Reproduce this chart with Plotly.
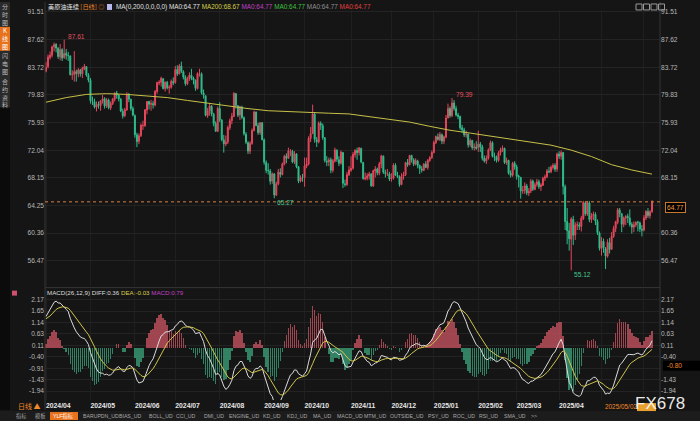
import numpy as np
import plotly.graph_objects as go

# ---------------- data ----------------
month_labels = ["2024/04", "2024/05", "2024/06", "2024/07", "2024/08", "2024/09", "2024/10",
                "2024/11", "2024/12", "2025/01", "2025/02", "2025/03", "2025/04", "2025/05", "2025/06"]
month_lengths = [22, 22, 20, 22, 22, 20, 23, 20, 21, 22, 19, 21, 21, 21, 5]

opens = [
    83.17, 83.80, 85.10, 85.40, 86.60, 86.95, 86.40, 85.20, 86.20, 85.10, 85.70, 85.40, 85.30, 82.70, 82.70, 83.10, 82.80, 83.30, 82.80, 83.50, 83.80, 82.60,
    81.90, 79.00, 78.90, 78.10, 78.50, 78.30, 79.00, 79.30, 78.30, 79.10, 78.00, 78.60, 79.20, 80.10, 79.80, 79.20, 77.50, 76.90, 77.70, 79.80, 79.20, 77.90,
    76.90, 74.20, 73.30, 74.10, 75.50, 75.50, 77.70, 78.90, 78.50, 78.60, 78.40, 80.30, 81.50, 81.60, 82.10, 80.70, 81.60, 80.80, 80.90, 81.70,
    81.60, 83.40, 82.80, 83.90, 83.10, 82.30, 81.40, 82.10, 82.60, 82.20, 81.90, 80.70, 82.80, 82.80, 80.10, 79.70, 76.90, 77.60, 78.20, 77.10, 75.80, 74.70,
    77.90, 76.30, 73.50, 72.90, 73.20, 75.20, 76.20, 76.80, 80.00, 78.30, 77.00, 78.10, 76.60, 74.30, 73.10, 71.90, 73.00, 74.80, 77.40, 75.50, 74.50, 75.90,
    73.50, 70.30, 69.20, 69.10, 67.70, 68.70, 65.70, 67.30, 68.90, 68.60, 70.10, 71.20, 70.90, 71.90, 71.90, 70.40, 71.50, 69.70, 67.70, 68.20,
    68.20, 69.80, 70.10, 73.70, 74.40, 77.10, 73.50, 73.20, 75.80, 75.50, 73.80, 70.50, 70.40, 70.70, 69.20, 70.50, 72.00, 70.70, 70.20, 71.70, 67.30, 67.20, 68.60,
    69.20, 69.50, 71.40, 72.00, 71.70, 72.30, 70.30, 68.00, 68.10, 68.40, 68.70, 67.00, 69.10, 69.40, 68.80, 70.10, 71.20, 68.90, 68.70, 68.70,
    68.00, 68.10, 69.90, 68.50, 68.30, 67.20, 68.40, 68.60, 70.30, 70.00, 71.30, 70.70, 70.10, 70.50, 69.90, 69.40, 69.20, 70.10, 69.60, 70.60, 71.00,
    71.70, 73.10, 73.90, 73.50, 74.20, 73.30, 73.90, 76.60, 77.90, 76.90, 78.70, 77.90, 77.00, 76.80, 75.20, 74.90, 74.20, 74.30, 72.80, 73.40, 72.40, 72.50,
    72.40, 72.90, 72.50, 70.90, 70.50, 70.90, 72.10, 73.10, 71.20, 71.10, 70.60, 71.70, 72.10, 72.30, 70.30, 70.60, 68.80, 68.50, 70.20,
    69.70, 68.40, 68.20, 66.30, 66.40, 67.00, 66.00, 66.30, 67.70, 66.50, 67.20, 67.60, 66.90, 67.10, 68.10, 68.30, 69.10, 69.00, 69.60, 69.90, 69.40,
    71.50, 71.20, 71.70, 66.90, 62.00, 60.70, 59.50, 62.30, 60.10, 61.50, 61.50, 61.30, 62.40, 64.60, 63.10, 64.60, 62.30, 62.80, 63.00, 62.00, 60.40,
    58.20, 59.20, 58.20, 57.10, 59.00, 58.10, 59.90, 61.00, 61.90, 63.60, 63.10, 61.60, 62.50, 62.70, 62.50, 61.60, 61.20, 61.50, 61.90, 61.80, 60.90,
    60.80, 62.50, 63.40, 62.80, 63.40,
]
highs = [
    84.43, 85.50, 85.95, 86.78, 87.20, 87.10, 86.55, 87.00, 86.40, 87.61, 86.30, 85.90, 85.40, 83.30, 86.00, 83.40, 83.60, 83.50, 83.80, 84.20, 83.90, 82.90,
    82.20, 79.60, 79.30, 78.90, 78.90, 79.10, 79.80, 79.50, 79.40, 79.30, 78.90, 79.40, 80.20, 80.40, 79.90, 79.40, 77.90, 78.00, 80.20, 80.10, 79.30, 78.20,
    77.10, 74.50, 74.40, 75.80, 76.20, 77.80, 78.95, 79.00, 79.10, 79.00, 80.50, 81.70, 81.90, 82.40, 82.20, 81.70, 81.80, 81.20, 82.00, 82.30,
    83.90, 84.00, 84.20, 84.50, 83.30, 82.60, 82.40, 83.00, 83.50, 82.40, 82.00, 83.00, 83.50, 83.00, 80.60, 79.80, 78.00, 78.60, 78.40, 77.30, 76.10, 78.20,
    78.80, 76.40, 74.20, 74.10, 75.50, 76.50, 77.30, 80.20, 80.10, 78.40, 78.30, 78.30, 76.80, 74.60, 73.30, 73.30, 75.10, 77.60, 77.50, 75.90, 76.00, 76.00,
    73.70, 70.60, 70.20, 69.40, 68.90, 68.80, 67.60, 69.40, 69.50, 70.30, 71.40, 71.60, 72.40, 72.20, 72.10, 71.90, 71.60, 69.80, 68.50, 68.70,
    71.00, 71.00, 74.00, 75.30, 78.46, 77.40, 73.90, 76.10, 76.10, 75.80, 73.90, 71.20, 71.00, 71.00, 70.80, 72.40, 72.20, 71.20, 72.00, 71.80, 67.90, 69.00, 69.80,
    71.20, 71.80, 72.20, 72.40, 72.50, 72.40, 70.40, 68.90, 68.80, 69.00, 68.80, 69.30, 69.80, 69.60, 70.40, 71.40, 71.30, 69.30, 69.40, 69.00,
    68.80, 70.20, 70.20, 69.00, 68.50, 68.80, 69.00, 70.40, 70.80, 71.40, 71.40, 70.90, 70.90, 70.70, 70.00, 69.80, 70.20, 70.50, 70.80, 71.20, 72.00,
    73.40, 74.10, 74.40, 74.60, 74.40, 74.10, 77.00, 78.60, 78.20, 79.39, 79.10, 78.30, 77.30, 76.90, 75.60, 75.20, 74.80, 74.40, 73.70, 73.50, 73.00, 73.30,
    74.80, 73.20, 72.80, 71.30, 71.30, 72.30, 73.40, 73.30, 71.70, 71.30, 71.90, 72.40, 72.70, 72.40, 71.00, 70.70, 69.20, 70.40, 70.50,
    70.00, 68.60, 68.30, 67.00, 67.50, 67.30, 66.70, 68.00, 67.90, 67.50, 68.00, 67.90, 67.40, 68.30, 68.60, 69.40, 69.70, 69.90, 70.20, 70.20, 71.70,
    71.90, 72.00, 71.80, 67.20, 63.90, 61.80, 62.60, 62.80, 61.90, 62.00, 61.90, 62.80, 64.90, 64.80, 64.90, 64.90, 63.20, 63.40, 63.30, 62.30, 60.60,
    59.80, 59.60, 58.40, 59.50, 59.70, 60.50, 61.40, 62.10, 63.90, 63.90, 63.20, 62.70, 62.90, 63.10, 63.70, 61.90, 62.00, 62.00, 62.10, 62.00, 61.50,
    62.90, 63.60, 63.90, 63.60, 65.00,
]
lows = [
    83.00, 83.55, 84.80, 85.10, 85.95, 85.80, 84.90, 84.70, 84.60, 84.90, 84.80, 84.60, 82.55, 81.95, 81.70, 81.70, 82.30, 82.40, 82.20, 83.30, 82.40, 81.60,
    78.60, 78.40, 77.90, 77.50, 77.90, 77.60, 78.60, 77.90, 78.00, 77.80, 77.70, 78.40, 78.90, 79.30, 78.90, 77.40, 76.50, 76.70, 77.60, 78.80, 77.60, 76.80,
    73.80, 72.48, 72.90, 73.90, 74.90, 75.30, 77.10, 77.80, 77.60, 77.90, 78.20, 80.00, 81.20, 81.00, 80.60, 80.30, 80.60, 80.00, 80.70, 81.20,
    81.40, 82.50, 82.70, 82.90, 82.00, 81.10, 81.20, 81.80, 81.90, 81.30, 80.40, 80.60, 82.40, 79.90, 79.30, 76.80, 76.60, 76.90, 76.80, 75.40, 74.60, 74.60,
    76.00, 73.30, 71.70, 72.60, 72.90, 74.90, 75.70, 76.70, 77.90, 76.70, 76.30, 76.40, 74.10, 72.90, 71.50, 71.50, 72.80, 74.70, 75.40, 74.20, 74.20, 73.40,
    70.00, 68.80, 68.60, 67.20, 67.30, 65.27, 65.60, 67.10, 68.20, 68.50, 69.90, 70.20, 70.80, 71.20, 70.20, 70.10, 69.50, 67.40, 67.50, 67.60,
    66.90, 69.50, 69.90, 73.20, 74.30, 73.10, 72.50, 73.00, 74.90, 73.50, 70.30, 69.80, 69.80, 68.80, 68.90, 70.30, 70.40, 69.80, 70.00, 66.70, 66.90, 67.00, 68.40,
    69.00, 69.30, 71.00, 70.70, 71.30, 70.20, 67.90, 67.80, 67.80, 67.90, 66.90, 66.90, 68.20, 68.50, 68.50, 69.50, 68.70, 68.20, 68.40, 67.70,
    67.60, 67.90, 68.40, 68.10, 66.90, 67.10, 67.90, 68.40, 69.70, 69.90, 70.30, 69.80, 69.90, 69.50, 68.70, 68.90, 69.10, 69.50, 69.30, 70.40, 70.80,
    71.60, 72.90, 73.40, 73.30, 72.90, 72.90, 73.70, 76.50, 76.60, 76.70, 77.60, 76.80, 76.40, 74.90, 74.50, 73.90, 73.80, 72.40, 72.50, 72.10, 72.00, 72.10,
    71.80, 71.80, 70.60, 70.30, 70.10, 70.70, 71.90, 71.00, 70.50, 70.30, 70.40, 71.30, 71.80, 70.10, 70.00, 68.60, 68.20, 68.30, 69.30,
    67.90, 66.80, 65.22, 65.90, 65.90, 65.70, 65.60, 66.00, 66.30, 66.40, 66.90, 66.60, 66.30, 67.00, 67.70, 68.10, 68.80, 68.80, 69.30, 69.00, 69.00,
    70.80, 70.70, 65.80, 60.80, 58.80, 57.90, 55.12, 58.70, 59.40, 60.80, 60.80, 60.60, 62.20, 62.80, 62.80, 61.90, 61.80, 62.20, 61.50, 60.10, 57.90,
    57.20, 57.60, 55.30, 56.90, 57.50, 58.00, 59.70, 60.50, 61.60, 62.60, 60.50, 61.20, 61.50, 61.80, 61.30, 60.30, 60.50, 61.20, 60.60, 60.50, 59.90,
    60.60, 62.20, 62.50, 62.40, 63.20,
]
closes = [
    83.71, 85.15, 85.43, 86.59, 86.91, 86.43, 85.23, 86.21, 85.02, 85.66, 85.41, 85.36, 82.69, 82.73, 83.14, 82.85, 83.36, 82.81, 83.57, 83.85, 82.63, 81.93,
    79.00, 78.95, 78.11, 78.48, 78.38, 78.99, 79.26, 78.26, 79.12, 78.02, 78.63, 79.23, 80.06, 79.80, 79.26, 77.57, 76.87, 77.72, 79.83, 79.23, 77.91, 76.99,
    74.22, 73.25, 74.07, 75.55, 75.53, 77.74, 78.90, 78.50, 78.62, 78.45, 80.33, 81.57, 81.60, 82.17, 80.73, 81.63, 80.83, 80.90, 81.74, 81.54,
    83.38, 82.81, 83.88, 83.16, 82.33, 81.41, 82.10, 82.62, 82.21, 81.91, 80.76, 82.85, 82.82, 80.13, 79.78, 76.96, 77.59, 78.28, 77.16, 75.81, 74.73, 77.91,
    76.31, 73.52, 72.94, 73.20, 75.23, 76.19, 76.84, 80.06, 78.35, 76.98, 78.16, 76.65, 74.37, 73.17, 71.93, 73.01, 74.83, 77.42, 75.53, 74.52, 75.91, 73.55,
    70.34, 69.20, 69.15, 67.67, 68.71, 65.75, 67.31, 68.97, 68.65, 70.09, 71.19, 70.91, 71.95, 71.92, 70.37, 71.56, 69.69, 67.67, 68.18, 68.17,
    69.83, 70.10, 73.71, 74.38, 77.14, 73.57, 73.24, 75.85, 75.56, 73.83, 70.58, 70.39, 70.67, 69.22, 70.56, 72.09, 70.77, 70.19, 71.78, 67.38, 67.21, 68.61, 69.26,
    69.49, 71.47, 71.99, 71.69, 72.36, 70.38, 68.04, 68.12, 68.43, 68.70, 67.02, 69.16, 69.39, 68.87, 70.10, 71.24, 68.94, 68.77, 68.72, 68.00,
    68.10, 69.94, 68.54, 68.30, 67.20, 68.37, 68.59, 70.29, 70.02, 71.29, 70.71, 70.08, 70.58, 69.91, 69.46, 69.24, 70.10, 69.62, 70.60, 70.99, 71.72,
    73.13, 73.96, 73.56, 74.25, 73.32, 73.92, 76.57, 77.90, 76.90, 78.70, 77.90, 77.00, 76.80, 75.20, 74.90, 74.20, 74.30, 72.80, 73.40, 72.40, 72.50, 72.30,
    72.90, 72.50, 70.90, 70.50, 70.90, 72.10, 73.10, 71.20, 71.10, 70.60, 71.70, 72.10, 72.30, 70.30, 70.60, 68.80, 68.50, 70.20, 69.70,
    68.37, 68.26, 66.31, 66.36, 67.04, 66.03, 66.25, 67.68, 66.55, 67.18, 67.58, 66.90, 67.16, 68.07, 68.28, 69.11, 69.00, 69.65, 69.92, 69.36, 71.48,
    71.20, 71.71, 66.95, 61.99, 60.70, 59.58, 62.35, 60.07, 61.50, 61.53, 61.33, 62.47, 64.68, 63.08, 64.67, 62.27, 62.79, 63.02, 62.05, 60.42, 58.21,
    59.24, 58.29, 57.13, 59.09, 58.07, 59.91, 61.02, 61.95, 63.67, 63.15, 61.62, 62.49, 62.69, 62.56, 61.57, 61.20, 61.53, 61.89, 61.84, 60.94, 60.79,
    62.52, 63.41, 62.85, 63.37, 64.77,
]
# closes before the visible window (Jan-Mar 2024), used only to warm up the MACD averages
warmup_closes = [
    70.38, 72.70, 72.19, 73.81, 70.77, 72.24, 71.37, 72.02, 72.68, 72.40, 72.56, 74.08, 73.41, 75.19, 74.37, 75.09, 77.36, 78.01, 76.78, 77.82, 75.85,
    73.82, 72.28, 72.78, 73.31, 73.86, 76.22, 76.84, 76.92, 77.87, 76.64, 78.03, 79.19, 77.04, 77.91, 78.61, 76.49, 77.58, 78.87, 78.54, 78.26,
    79.97, 78.74, 78.15, 79.13, 78.93, 78.01, 77.93, 77.56, 79.72, 81.26, 81.04, 82.72, 83.47, 81.68, 81.07, 80.63, 81.95, 81.62, 81.35, 83.17,
]
# MA200 every 10 sessions
ma200_step = 10
ma200_values = [78.80, 79.45, 79.90, 80.00, 79.90, 79.70, 79.45, 79.05, 78.65, 78.20, 77.90, 77.60, 77.45, 77.35,
                77.25, 77.15, 76.80, 76.45, 76.00, 75.40, 74.85, 74.45, 74.05, 73.60, 73.20, 72.75, 72.05, 71.15,
                70.00, 69.25, 68.67]
price_ticks = [91.51, 87.62, 83.72, 79.83, 75.93, 72.04, 68.15, 64.25, 60.36, 56.47]
macd_ticks = [2.17, 1.65, 1.14, 0.63, 0.11, -0.40, -0.91, -1.43, -1.94]
high_marks = [9, 201]
low_marks = [113, 260]
crosshair_macd = -0.80

n = len(closes)
assert len(opens) == n and len(highs) == n and len(lows) == n, (len(opens), len(highs), len(lows), n)
assert sum(month_lengths) == n, (sum(month_lengths), n)

# ---------------- indicators ----------------
def ema(vals, span):
    k = 2.0 / (span + 1)
    out = []
    e = vals[0]
    for v in vals:
        e = e + k * (v - e)
        out.append(e)
    return np.array(out)

allc = np.array(warmup_closes + closes, dtype=float)
diff_all = ema(allc, 12) - ema(allc, 26)
dea_all = ema(diff_all, 9)
w = len(warmup_closes)
diff = diff_all[w:]
dea = dea_all[w:]
macd = 2 * (diff - dea)

xs = list(range(n))
month_starts = [int(v) for v in np.cumsum([0] + month_lengths[:-1])]

# ---------------- layout helpers ----------------
W, H = 700, 421
def px(x):
    return x / W
def py(y):
    return 1 - y / H

UP = "#e5475c"
DN = "#30bd8c"
BG = "#151515"
GRID = "#232323"
AXT = "#b8b8b8"
FONT = "Liberation Sans, Noto Sans CJK SC, sans-serif"
CJK = "Noto Sans CJK SC, Liberation Sans, sans-serif"
TS = 6.6  # small text size

xl, xr = 45, 660
main_top, main_bot = 8, 285
macd_top, macd_bot = 288, 400
pp = (price_ticks[0] - price_ticks[-1]) / (260 - 10)
main_range = [price_ticks[-1] - (main_bot - 260) * pp, price_ticks[0] + (10 - main_top) * pp]
mp = (macd_ticks[0] - macd_ticks[-1]) / (391 - 299)
macd_range = [macd_ticks[-1] - (macd_bot - 391) * mp, macd_ticks[0] + (299 - macd_top) * mp]
x_range = [-0.5, -0.5 + (xr - xl) / 2.02]

fig = go.Figure()
fig.add_trace(go.Candlestick(
    x=xs, open=opens, high=highs, low=lows, close=closes,
    increasing=dict(line=dict(color=UP, width=1), fillcolor=UP),
    decreasing=dict(line=dict(color=DN, width=1), fillcolor=DN),
    whiskerwidth=0, showlegend=False, hoverinfo="skip", xaxis="x", yaxis="y"))
fig.add_trace(go.Scatter(
    x=[i * ma200_step for i in range(len(ma200_values))], y=ma200_values, mode="lines",
    line=dict(color="#c8c048", width=1), showlegend=False, hoverinfo="skip", xaxis="x", yaxis="y"))
fig.add_trace(go.Scatter(x=xs, y=closes, mode="lines", opacity=0, line=dict(width=0.1),
                         showlegend=False, hoverinfo="skip", xaxis="x", yaxis="y3"))

bar_colors = ["rgba(205,85,100,0.75)" if v >= 0 else "rgba(60,165,125,0.75)" for v in macd]
fig.add_trace(go.Bar(x=xs, y=macd, marker=dict(color=bar_colors, line=dict(width=0)), width=0.72,
                     showlegend=False, hoverinfo="skip", xaxis="x2", yaxis="y2"))
fig.add_trace(go.Scatter(x=xs, y=diff, mode="lines", line=dict(color="#dcdcdc", width=1),
                         showlegend=False, hoverinfo="skip", xaxis="x2", yaxis="y2"))
fig.add_trace(go.Scatter(x=xs, y=dea, mode="lines", line=dict(color="#cfc44e", width=1),
                         showlegend=False, hoverinfo="skip", xaxis="x2", yaxis="y2"))
fig.add_trace(go.Scatter(x=xs, y=diff, mode="lines", opacity=0, line=dict(width=0.1),
                         showlegend=False, hoverinfo="skip", xaxis="x2", yaxis="y4"))

xdom = [px(xl), px(xr)]
ytick_font = dict(size=TS, color=AXT, family=FONT)
common_x = dict(domain=xdom, range=x_range, tickvals=month_starts, showgrid=True, gridcolor="#1f1f1f",
                zeroline=False, ticks="", showline=False)
price_text = [f"{v:.2f}" for v in price_ticks]
right_price_text = ["" if abs(v - closes[-1]) < 1.0 else t for v, t in zip(price_ticks, price_text)]
macd_text = [f"{v:.2f}" for v in macd_ticks]
right_macd_text = ["" if abs(v - crosshair_macd) < 0.2 else t for v, t in zip(macd_ticks, macd_text)]
fig.update_layout(
    width=W, height=H, margin=dict(l=0, r=0, t=0, b=0),
    paper_bgcolor=BG, plot_bgcolor=BG, showlegend=False, bargap=0,
    font=dict(family=FONT, color=AXT),
    xaxis=dict(**common_x, anchor="y", showticklabels=False, rangeslider=dict(visible=False)),
    xaxis2=dict(**common_x, anchor="y2", matches="x", showticklabels=True,
                ticktext=[f"<b>{t}</b>" for t in month_labels[:13]] + ["", ""], ticklabelposition="outside right",
                tickfont=dict(size=6.8, color="#e6e6e6", family=FONT), rangeslider=dict(visible=False)),
    yaxis=dict(domain=[py(main_bot), py(main_top)], range=main_range, side="right", anchor="x",
               tickvals=price_ticks, ticktext=right_price_text, tickfont=ytick_font,
               showgrid=True, gridcolor=GRID, zeroline=False, ticks=""),
    yaxis3=dict(overlaying="y", range=main_range, side="left", anchor="x",
                tickvals=price_ticks, ticktext=price_text, tickfont=ytick_font,
                showgrid=False, zeroline=False, ticks=""),
    yaxis2=dict(domain=[py(macd_bot), py(macd_top)], range=macd_range, side="right", anchor="x2",
                tickvals=macd_ticks, ticktext=right_macd_text, tickfont=ytick_font,
                showgrid=True, gridcolor=GRID, zeroline=False, ticks=""),
    yaxis4=dict(overlaying="y2", range=macd_range, side="left", anchor="x2",
                tickvals=macd_ticks, ticktext=macd_text, tickfont=ytick_font,
                showgrid=False, zeroline=False, ticks=""),
)

shapes = []
ann = []
# frame lines
for xv in (xl, xr):
    shapes.append(dict(type="line", xref="paper", yref="paper", x0=px(xv), x1=px(xv), y0=py(410), y1=1,
                       line=dict(color="#363636", width=1)))
shapes.append(dict(type="line", xref="paper", yref="paper", x0=px(xl), x1=px(xr), y0=py(287), y1=py(287),
                   line=dict(color="#363636", width=1)))
# last price dotted line
shapes.append(dict(type="line", xref="paper", yref="y", x0=px(xl), x1=px(xr), y0=closes[-1], y1=closes[-1],
                   line=dict(color="#d88040", width=1, dash="dot")))
# left strip
shapes.append(dict(type="rect", xref="paper", yref="paper", x0=0, x1=px(10), y0=py(410), y1=1,
                   fillcolor="#0b0b0b", line=dict(width=0), layer="below"))
shapes.append(dict(type="rect", xref="paper", yref="paper", x0=0, x1=px(10), y0=py(106), y1=1,
                   fillcolor="#2a2a2a", line=dict(width=0)))
shapes.append(dict(type="rect", xref="paper", yref="paper", x0=0, x1=px(10), y0=py(49), y1=py(25),
                   fillcolor="#e8731c", line=dict(width=0)))
# bottom tab bar
shapes.append(dict(type="rect", xref="paper", yref="paper", x0=0, x1=1, y0=0, y1=py(411),
                   fillcolor="#1c1c1c", line=dict(width=0)))
shapes.append(dict(type="rect", xref="paper", yref="paper", x0=px(50), x1=px(78), y0=py(420), y1=py(412),
                   fillcolor="#e8731c", line=dict(width=0)))
# MACD crosshair value tag background
shapes.append(dict(type="rect", xref="paper", yref="y2", x0=px(663), x1=1,
                   y0=crosshair_macd - 5 * mp, y1=crosshair_macd + 5 * mp,
                   fillcolor="#000000", line=dict(width=0)))
# top-right toolbar icons
for i in range(4):
    x0 = 636 + i * 7.5
    shapes.append(dict(type="rect", xref="paper", yref="paper", x0=px(x0), x1=px(x0 + 6), y0=py(8), y1=py(2),
                       line=dict(color="#9a9a9a", width=1), fillcolor="rgba(0,0,0,0)"))
# header icons
shapes.append(dict(type="rect", xref="paper", yref="paper", x0=px(107), x1=px(112), y0=py(8), y1=py(2),
                   fillcolor="#b9b9f0", line=dict(width=0)))
shapes.append(dict(type="rect", xref="paper", yref="paper", x0=px(12), x1=px(17), y0=py(295), y1=py(290),
                   fillcolor="#d05070", line=dict(width=0)))
# weekday box behind the watermark
shapes.append(dict(type="rect", xref="paper", yref="paper", x0=px(637), x1=px(656), y0=py(411), y1=py(403),
                   fillcolor="#e8a030", line=dict(width=0)))

# header
hdr = ('<span style="color:#e8e8e8">美原油连续</span> <span style="color:#f08a2a">[日线]</span> '
       '<span style="color:#c06a2a">◎</span>')
ann.append(dict(x=px(46), y=py(5), xref="paper", yref="paper", text=hdr, showarrow=False,
                xanchor="left", yanchor="middle", font=dict(size=6.2, family=CJK)))
hdr2 = ('<span style="color:#e0e0e0">MA(0,200,0,0,0,0)</span> <span style="color:#e0e0e0">MA0:64.77</span> '
        '<span style="color:#d6cf4a">MA200:68.67</span> <span style="color:#c040c8">MA0:64.77</span> '
        '<span style="color:#40c040">MA0:64.77</span> <span style="color:#909090">MA0:64.77</span> '
        '<span style="color:#e04040">MA0:64.77</span>')
ann.append(dict(x=px(114), y=py(5), xref="paper", yref="paper", text=hdr2, showarrow=False,
                xanchor="left", yanchor="middle", font=dict(size=6.4, family=FONT)))
mh = ('<span style="color:#dcdcdc">MACD(26,12,9)</span> <span style="color:#dcdcdc">DIFF:0.36</span> '
      '<span style="color:#d6cf4a">DEA:-0.03</span> <span style="color:#c040c8">MACD:0.79</span>')
ann.append(dict(x=px(45), y=py(292), xref="paper", yref="paper", text=mh, showarrow=False,
                xanchor="left", yanchor="middle", font=dict(size=6.2, family=FONT)))

# extreme marks
for i in high_marks:
    ann.append(dict(x=i, y=highs[i], xref="x", yref="y", text=f"{highs[i]:.2f}", showarrow=False,
                    xanchor="left", yanchor="bottom", xshift=2, yshift=-2,
                    font=dict(size=TS, color="#e0505f", family=FONT)))
for i in low_marks:
    ann.append(dict(x=i, y=lows[i], xref="x", yref="y", text=f"{lows[i]:.2f}", showarrow=False,
                    xanchor="left", yanchor="top", xshift=1, yshift=1,
                    font=dict(size=TS, color="#45c594", family=FONT)))

# last-price tag and MACD crosshair tag
ann.append(dict(x=px(xr + 5), y=closes[-1], xref="paper", yref="y", text=f"{closes[-1]:.2f}", showarrow=False,
                xanchor="left", yanchor="top", yshift=0, bgcolor="#000000", bordercolor="#c8782e", borderwidth=1,
                borderpad=1, font=dict(size=TS, color="#f0a040", family=FONT)))
ann.append(dict(x=px(665), y=crosshair_macd, xref="paper", yref="y2", text=f"{crosshair_macd:.2f}",
                showarrow=False, xanchor="left", yanchor="middle",
                font=dict(size=TS, color="#f08a2a", family=FONT)))

# left vertical menu
for txt, yc, col in [("分<br>时<br>图", 13, "#bdbdbd"), ("K<br>线<br>图", 37, "#ffffff"),
                     ("闪<br>电<br>图", 62, "#bdbdbd"), ("合<br>约<br>资<br>料", 91, "#bdbdbd")]:
    ann.append(dict(x=px(5), y=py(yc), xref="paper", yref="paper", text=txt, showarrow=False,
                    xanchor="center", yanchor="middle", font=dict(size=6, color=col, family=CJK)))

# bottom items
ann.append(dict(x=px(16), y=py(406), xref="paper", yref="paper", text="日线 ▲", showarrow=False,
                xanchor="left", yanchor="middle", font=dict(size=7, color="#f08a2a", family=CJK)))
ann.append(dict(x=px(603), y=py(406), xref="paper", yref="paper", text="2025/05/02", showarrow=False,
                xanchor="left", yanchor="middle", font=dict(size=6.4, color="#f08a2a", family=FONT)))
tabs = [("指标", 15), ("模板", 34), ("YLF指标", 52), ("BARUPDN_UD", 82), ("BIAS_UD", 118), ("BOLL_UD", 148),
        ("CCI_UD", 175), ("DMI_UD", 203), ("ENGINE_UD", 228), ("KD_UD", 262), ("KDJ_UD", 286), ("MA_UD", 312),
        ("MACD_UD", 336), ("MTM_UD", 363), ("OUTSIDE_UD", 389), ("PSY_UD", 427), ("ROC_UD", 452),
        ("RSI_UD", 478), ("SMA_UD", 503), (">>", 530)]
for t, x0 in tabs:
    col = "#ffffff" if t == "YLF指标" else "#a8a8a8"
    ann.append(dict(x=px(x0), y=py(416), xref="paper", yref="paper", text=t, showarrow=False,
                    xanchor="left", yanchor="middle", borderpad=0,
                    font=dict(size=5.2, color=col, family=FONT)))

# watermark
ann.append(dict(x=px(660), y=py(403), xref="paper", yref="paper", text="FX678", showarrow=False,
                xanchor="center", yanchor="middle", borderpad=0,
                font=dict(size=17, color="rgba(255,255,255,0.92)", family=FONT)))

fig.update_layout(shapes=shapes, annotations=ann)
fig.write_html("out.html", config={"displayModeBar": False},
               post_script="document.body.style.margin='0';document.body.style.overflow='hidden';")
